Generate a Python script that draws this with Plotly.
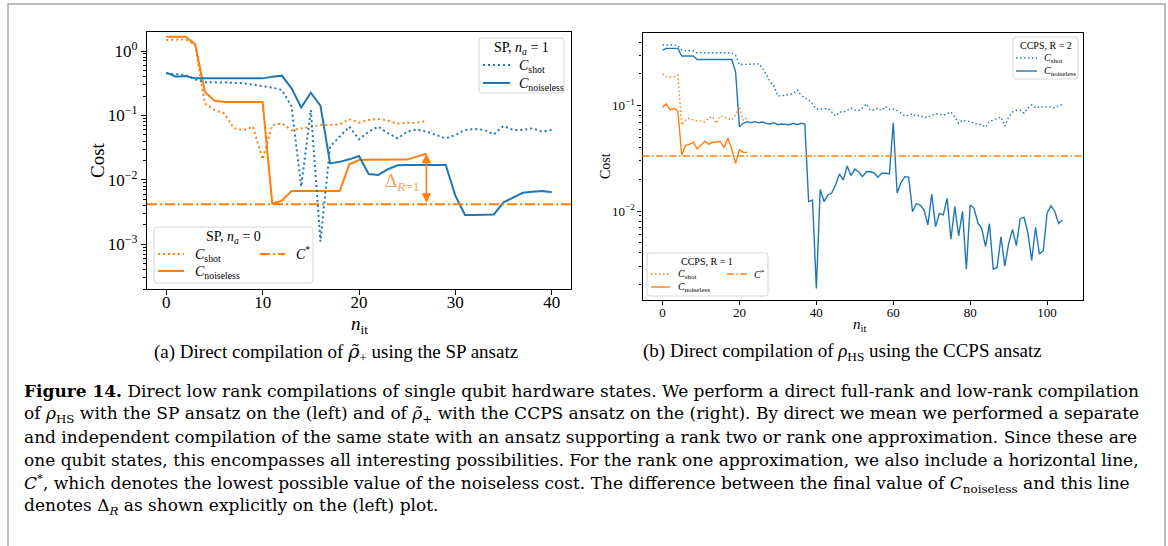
import numpy as np
import plotly.graph_objects as go

W, H = 1168, 546

# ---------------- data: (a) SP ansatz ----------------
sp_x0 = list(range(0, 28))
sp_na0_shot = [1.48, 1.48, 1.52, 1.24, 0.154, 0.121, 0.108, 0.063, 0.059, 0.067,
               0.0208, 0.071, 0.075, 0.059, 0.063, 0.067, 0.071, 0.071, 0.073, 0.087,
               0.077, 0.085, 0.088, 0.083, 0.074, 0.077, 0.077, 0.082]
sp_na0_noiseless = [1.67, 1.67, 1.67, 1.28, 0.233, 0.169, 0.161, 0.161, 0.161, 0.161,
                    0.161, 0.00431, 0.00474, 0.0067, 0.0067, 0.0067, 0.0067, 0.0067, 0.0067, 0.0174,
                    0.0203, 0.0205, 0.0206, 0.0206, 0.0206, 0.0206, 0.0229, 0.0254]
sp_x1 = list(range(0, 41))
sp_na1_shot = [0.45, 0.43, 0.42, 0.363, 0.326, 0.326, 0.326, 0.322, 0.315, 0.30,
               0.279, 0.27, 0.248, 0.137, 0.0078, 0.121, 0.0011, 0.0327, 0.047, 0.067,
               0.0425, 0.056, 0.067, 0.053, 0.044, 0.056, 0.0606, 0.056, 0.0497, 0.044,
               0.0497, 0.0594, 0.0617, 0.0594, 0.0508, 0.0685, 0.0594, 0.0594, 0.063, 0.056,
               0.0594]
sp_na1_noiseless = [0.461, 0.40, 0.41, 0.376, 0.376, 0.376, 0.376, 0.376, 0.376, 0.376,
                    0.376, 0.40, 0.414, 0.263, 0.133, 0.225, 0.142, 0.018, 0.019, 0.0208,
                    0.0234, 0.0123, 0.0119, 0.0146, 0.0168, 0.017, 0.017, 0.017, 0.017, 0.017,
                    0.00567, 0.00284, 0.00284, 0.0029, 0.0029, 0.00447, 0.0053, 0.0063, 0.0065, 0.0067,
                    0.0064]
sp_cstar = 0.00416

# ---------------- data: (b) CCPS ansatz ----------------
cc_x1 = list(range(0, 23))
cc_r1_shot = [0.20, 0.188, 0.186, 0.188, 0.195, 0.0655, 0.073, 0.076, 0.073, 0.072,
              0.070, 0.070, 0.076, 0.079, 0.068, 0.080, 0.078, 0.076, 0.073, 0.082,
              0.098, 0.072, 0.078]
cc_r1_noiseless = [0.0964, 0.104, 0.091, 0.094, 0.089, 0.034, 0.042, 0.043, 0.045, 0.039,
                   0.042, 0.046, 0.043, 0.045, 0.045, 0.046, 0.040, 0.049, 0.039, 0.0284,
                   0.038, 0.036, 0.036]
cc_x2 = list(range(0, 105))
cc_r2_shot = [0.377, 0.377, 0.377, 0.377, 0.37, 0.337, 0.332, 0.332, 0.332, 0.318,
              0.318, 0.318, 0.318, 0.318, 0.318, 0.318, 0.318, 0.318, 0.318, 0.30,
              0.246, 0.246, 0.246, 0.246, 0.246, 0.25, 0.228, 0.195, 0.169, 0.153,
              0.124, 0.124, 0.125, 0.128, 0.131, 0.141, 0.125, 0.119, 0.114, 0.104,
              0.093, 0.093, 0.093, 0.094, 0.087, 0.0798, 0.087, 0.087, 0.090, 0.095,
              0.091, 0.090, 0.095, 0.104, 0.091, 0.091, 0.095, 0.090, 0.098, 0.092,
              0.093, 0.090, 0.085, 0.0798, 0.081, 0.084, 0.0798, 0.081, 0.077, 0.078,
              0.081, 0.084, 0.083, 0.081, 0.084, 0.087, 0.078, 0.068, 0.073, 0.071,
              0.071, 0.068, 0.067, 0.066, 0.0623, 0.071, 0.073, 0.076, 0.078, 0.064,
              0.078, 0.087, 0.090, 0.091, 0.085, 0.095, 0.102, 0.095, 0.098, 0.097,
              0.098, 0.097, 0.095, 0.10, 0.102]
cc_r2_noiseless = [0.337, 0.35, 0.35, 0.35, 0.35, 0.296, 0.296, 0.296, 0.296, 0.275,
                   0.275, 0.275, 0.275, 0.275, 0.275, 0.275, 0.275, 0.275, 0.275, 0.21,
                   0.063, 0.068, 0.0705, 0.069, 0.0705, 0.069, 0.070, 0.068, 0.067, 0.069,
                   0.066, 0.067, 0.067, 0.066, 0.068, 0.066, 0.068, 0.067, 0.0123, 0.0127,
                   0.00184, 0.016, 0.0123, 0.0142, 0.0148, 0.0177, 0.0225, 0.0197, 0.0267, 0.0217,
                   0.025, 0.0236, 0.0212, 0.0236, 0.0236, 0.0231, 0.0209, 0.0228, 0.0228, 0.0225,
                   0.069, 0.0148, 0.0186, 0.0212, 0.021, 0.00986, 0.0117, 0.0114, 0.0102, 0.00736,
                   0.0145, 0.0071, 0.0095, 0.0092, 0.0132, 0.0054, 0.011, 0.0058, 0.0099, 0.0028,
                   0.0114, 0.0106, 0.0077, 0.0068, 0.00458, 0.0076, 0.0028, 0.0029, 0.0057, 0.0030,
                   0.0049, 0.0067, 0.0047, 0.0085, 0.0087, 0.0062, 0.0034, 0.0070, 0.0039, 0.0042,
                   0.0096, 0.0112, 0.0099, 0.0076, 0.0082]
cc_cstar = 0.0333

# ---------------- labels ----------------
sp_xticks = [0, 10, 20, 30, 40]
cc_xticks = [0, 20, 40, 60, 80, 100]
sp_yticks = [1e-3, 1e-2, 1e-1, 1e0]
sp_yticktext = ["10<sup>−3</sup>", "10<sup>−2</sup>", "10<sup>−1</sup>", "10<sup>0</sup>"]
cc_yticks = [1e-2, 1e-1]
cc_yticktext = ["10<sup>−2</sup>", "10<sup>−1</sup>"]

BLUE = "#1f77b4"
ORANGE = "#ff7f0e"
FONT = "Liberation Serif"
CAP_FONT = "DejaVu Serif"

C_SHOT = "<i>C</i><sub>shot</sub>"
C_NOISELESS = "<i>C</i><sub>noiseless</sub>"
C_STAR = "<i>C</i><sup>*</sup>"
RHO_TILDE = "<span style=\"font-family:'DejaVu Serif'\"><i>ρ̃</i></span><sub>+</sub>"

DOT_A = "2px,3px"
DOT_B = "1.5px,2.5px"
DASHDOT_A = "10px,3px,2px,3px"
DASHDOT_B = "7px,2.5px,1.5px,2.5px"

fig = go.Figure()

# (a)
fig.add_trace(go.Scatter(x=sp_x0, y=sp_na0_shot, mode="lines", name=C_SHOT,
                         line=dict(color=ORANGE, width=2, dash=DOT_A), xaxis="x", yaxis="y", showlegend=False))
fig.add_trace(go.Scatter(x=sp_x0, y=sp_na0_noiseless, mode="lines", name=C_NOISELESS,
                         line=dict(color=ORANGE, width=2), xaxis="x", yaxis="y", showlegend=False))
fig.add_trace(go.Scatter(x=sp_x1, y=sp_na1_shot, mode="lines", name=C_SHOT,
                         line=dict(color=BLUE, width=2, dash=DOT_A), xaxis="x", yaxis="y", showlegend=False))
fig.add_trace(go.Scatter(x=sp_x1, y=sp_na1_noiseless, mode="lines", name=C_NOISELESS,
                         line=dict(color=BLUE, width=2), xaxis="x", yaxis="y", showlegend=False))
# (b)
fig.add_trace(go.Scatter(x=cc_x2, y=cc_r2_shot, mode="lines", name=C_SHOT,
                         line=dict(color=BLUE, width=1.4, dash=DOT_B), xaxis="x2", yaxis="y2", showlegend=False))
fig.add_trace(go.Scatter(x=cc_x2, y=cc_r2_noiseless, mode="lines", name=C_NOISELESS,
                         line=dict(color=BLUE, width=1.4), xaxis="x2", yaxis="y2", showlegend=False))
fig.add_trace(go.Scatter(x=cc_x1, y=cc_r1_shot, mode="lines", name=C_SHOT,
                         line=dict(color=ORANGE, width=1.4, dash=DOT_B), xaxis="x2", yaxis="y2", showlegend=False))
fig.add_trace(go.Scatter(x=cc_x1, y=cc_r1_noiseless, mode="lines", name=C_NOISELESS,
                         line=dict(color=ORANGE, width=1.4), xaxis="x2", yaxis="y2", showlegend=False))

def px(x):
    return x / W

def py(y):
    return 1 - y / H

def minor_vals(lo, hi):
    vals = []
    for e in range(lo, hi + 1):
        for m in range(2, 10):
            vals.append(m * 10.0 ** e)
    return vals

axis_common = dict(showline=True, linecolor="black", linewidth=1.2, mirror=True,
                   ticks="outside", tickcolor="black", tickwidth=1.1,
                   showgrid=False, zeroline=False)

fig.update_layout(
    width=W, height=H, margin=dict(l=0, r=0, t=0, b=0),
    paper_bgcolor="white", plot_bgcolor="white",
    font=dict(family=FONT, color="black"),
    xaxis=dict(domain=[px(147), px(571)], range=[-2, 42], tickvals=sp_xticks, ticklen=5,
               tickfont=dict(size=17), ticklabelstandoff=-8, anchor="y", **axis_common),
    yaxis=dict(domain=[py(289.3), py(32)], type="log", range=[-3.70, 0.295],
               tickvals=sp_yticks, ticktext=sp_yticktext, ticklen=5, tickfont=dict(size=17),
               minor=dict(tickmode="array", tickvals=minor_vals(-4, 0), ticks="outside",
                          ticklen=2.5, tickcolor="black", tickwidth=0.8),
               anchor="x", **axis_common),
    xaxis2=dict(domain=[px(642.5), px(1082.5)], range=[-5.2, 109.2], tickvals=cc_xticks, ticklen=4,
                tickfont=dict(size=13), ticklabelstandoff=-4, anchor="y2", **axis_common),
    yaxis2=dict(domain=[py(300), py(32.5)], type="log", range=[-2.845, -0.305],
                tickvals=cc_yticks, ticktext=cc_yticktext, ticklen=4, tickfont=dict(size=13),
                minor=dict(tickmode="array", tickvals=minor_vals(-3, -1), ticks="outside",
                           ticklen=2, tickcolor="black", tickwidth=0.8),
                anchor="x2", **axis_common),
)

shapes = []
annotations = []

# C* lines
shapes.append(dict(type="line", xref="x domain", yref="y", x0=0, x1=1, y0=sp_cstar, y1=sp_cstar,
                   line=dict(color=ORANGE, width=2, dash=DASHDOT_A)))
shapes.append(dict(type="line", xref="x2 domain", yref="y2", x0=0, x1=1, y0=cc_cstar, y1=cc_cstar,
                   line=dict(color=ORANGE, width=1.4, dash=DASHDOT_B)))

# Delta arrow
annotations.append(dict(x=27, y=np.log10(sp_na0_noiseless[-1]), ax=27, ay=np.log10(sp_cstar),
                        xref="x", yref="y", axref="x", ayref="y", text="", showarrow=True,
                        arrowside="end+start", arrowhead=2, startarrowhead=2, arrowsize=1.2,
                        arrowwidth=1.6, arrowcolor=ORANGE, standoff=0, startstandoff=0))
annotations.append(dict(x=px(402), y=py(182), xref="paper", yref="paper", showarrow=False,
                        text="Δ<sub><i>R</i>=1</sub>", font=dict(size=19, color="#f8a35a", family=FONT),
                        xanchor="center", yanchor="middle"))


def rbox(x0, y0, x1, y1, r=3):
    X0, X1 = px(x0), px(x1)
    Y0, Y1 = py(y0), py(y1)
    rx, ry = r / W, r / H
    path = (f"M {X0+rx},{Y0} L {X1-rx},{Y0} Q {X1},{Y0} {X1},{Y0-ry} "
            f"L {X1},{Y1+ry} Q {X1},{Y1} {X1-rx},{Y1} L {X0+rx},{Y1} Q {X0},{Y1} {X0},{Y1+ry} "
            f"L {X0},{Y0-ry} Q {X0},{Y0} {X0+rx},{Y0} Z")
    shapes.append(dict(type="path", path=path, xref="paper", yref="paper",
                       line=dict(color="#d6d6d6", width=1), fillcolor="rgba(255,255,255,0.85)"))


def handle(x0, x1, y, color, dash, width):
    shapes.append(dict(type="line", xref="paper", yref="paper", x0=px(x0), x1=px(x1), y0=py(y), y1=py(y),
                       line=dict(color=color, width=width, dash=dash)))


def label(x, y, text, size, anchor="left"):
    annotations.append(dict(x=px(x), y=py(y), xref="paper", yref="paper", showarrow=False, text=text,
                            font=dict(size=size, family=FONT, color="black"),
                            xanchor=anchor, yanchor="middle"))

# legend (a) upper right: SP, n_a = 1
rbox(479, 38, 564, 93)
label(521.5, 48, "SP, <i>n</i><sub><i>a</i></sub> = 1", 14, "center")
handle(483, 510, 65, BLUE, DOT_A, 2)
label(517, 66, C_SHOT, 14)
handle(483, 510, 83, BLUE, "solid", 2)
label(517, 84, C_NOISELESS, 14)

# legend (a) lower left: SP, n_a = 0
rbox(154, 227, 313, 283)
label(233, 237, "SP, <i>n</i><sub><i>a</i></sub> = 0", 14, "center")
handle(158, 184, 254, ORANGE, DOT_A, 2)
label(193, 255, C_SHOT, 14)
handle(260, 285, 254, ORANGE, DASHDOT_A, 2)
label(294, 253, C_STAR, 14)
handle(158, 184, 271, ORANGE, "solid", 2)
label(193, 272, C_NOISELESS, 14)

# legend (b) upper right: CCPS, R = 2
rbox(1013, 37, 1078, 79)
label(1045.5, 45, "CCPS, R = 2", 10, "center")
handle(1016, 1037, 58, BLUE, DOT_B, 1.4)
label(1042, 58.5, C_SHOT, 10)
handle(1016, 1037, 71, BLUE, "solid", 1.4)
label(1042, 71.5, C_NOISELESS, 10)

# legend (b) lower left: CCPS, R = 1
rbox(647, 253, 768, 296)
label(707, 261, "CCPS, R = 1", 10, "center")
handle(651, 670, 274, ORANGE, DOT_B, 1.4)
label(676, 274.5, C_SHOT, 10)
handle(727, 747, 274, ORANGE, DASHDOT_B, 1.4)
label(752, 273.5, C_STAR, 10)
handle(651, 670, 287, ORANGE, "solid", 1.4)
label(676, 287.5, C_NOISELESS, 10)

# axis titles
annotations.append(dict(x=px(97), y=py(160), xref="paper", yref="paper", showarrow=False, text="Cost",
                        textangle=-90, font=dict(size=19, family=FONT), xanchor="center", yanchor="middle"))
annotations.append(dict(x=px(605), y=py(166), xref="paper", yref="paper", showarrow=False, text="Cost",
                        textangle=-90, font=dict(size=14, family=FONT), xanchor="center", yanchor="middle"))
annotations.append(dict(x=px(359), y=py(325), xref="paper", yref="paper", showarrow=False,
                        text="<i>n</i><sub>it</sub>", font=dict(size=19, family=FONT),
                        xanchor="center", yanchor="middle"))
annotations.append(dict(x=px(860), y=py(325), xref="paper", yref="paper", showarrow=False,
                        text="<i>n</i><sub>it</sub>", font=dict(size=15, family=FONT),
                        xanchor="center", yanchor="middle"))

# sub-captions
annotations.append(dict(x=px(336), y=py(352), xref="paper", yref="paper", showarrow=False,
                        text="(a) Direct compilation of " + RHO_TILDE + " using the SP ansatz",
                        font=dict(size=19, family=FONT), xanchor="center", yanchor="middle"))
annotations.append(dict(x=px(842), y=py(352), xref="paper", yref="paper", showarrow=False,
                        text="(b) Direct compilation of <i>ρ</i><sub>HS</sub> using the CCPS ansatz",
                        font=dict(size=19, family=FONT), xanchor="center", yanchor="middle"))

caption_lines = [
    "<b>Figure 14.</b> Direct low rank compilations of single qubit hardware states. We perform a direct full-rank and low-rank compilation",
    "of <i>ρ</i><sub>HS</sub> with the SP ansatz on the (left) and of " + RHO_TILDE + " with the CCPS ansatz on the (right). By direct we mean we performed a separate",
    "and independent compilation of the same state with an ansatz supporting a rank two or rank one approximation. Since these are",
    "one qubit states, this encompasses all interesting possibilities. For the rank one approximation, we also include a horizontal line,",
    "<i>C</i><sup>*</sup>, which denotes the lowest possible value of the noiseless cost. The difference between the final value of <i>C</i><sub>noiseless</sub> and this line",
    "denotes Δ<sub><i>R</i></sub> as shown explicitly on the (left) plot.",
]
for i, line in enumerate(caption_lines):
    annotations.append(dict(x=px(22), y=py(391 + 23 * i), xref="paper", yref="paper", showarrow=False,
                            text=line, font=dict(size=17, family=CAP_FONT), xanchor="left", yanchor="middle"))

# outer frame (its bottom edge lies outside the picture, as in the original)
shapes.append(dict(type="rect", xref="paper", yref="paper", x0=px(8), x1=px(1165), y0=py(570), y1=py(4),
                   line=dict(color="#a6a6a6", width=1.5), fillcolor="rgba(0,0,0,0)", layer="below"))

fig.update_layout(shapes=shapes, annotations=annotations)
fig.write_html("out.html", config={"displayModeBar": False},
               post_script="document.body.style.margin='0px';")
